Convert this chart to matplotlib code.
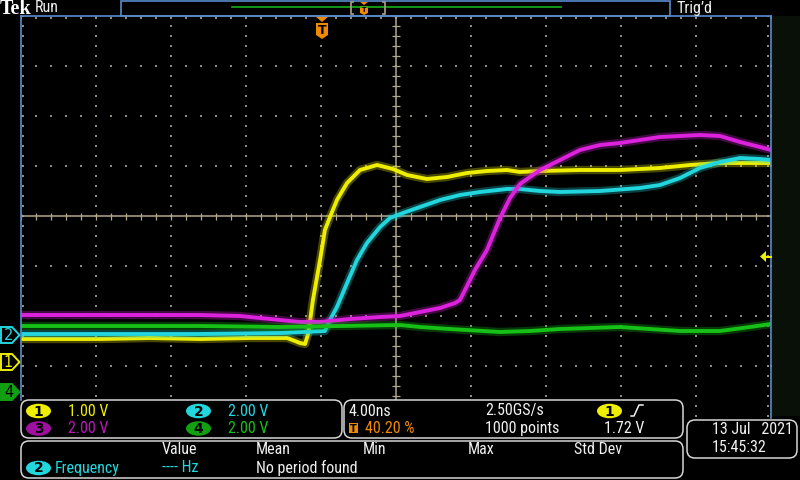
import matplotlib
matplotlib.use("Agg")
import matplotlib.pyplot as plt
from matplotlib import font_manager
from matplotlib.patches import FancyBboxPatch, Ellipse, Polygon, Rectangle
import numpy as np

# ---------------- data ----------------
time_per_div_ns = 4.0
volts_per_div = {1: 1.0, 2: 2.0, 3: 2.0, 4: 2.0}
position_div = {1: -2.92, 2: -2.40, 3: -2.40, 4: -3.52}

ch1_t = [0, 4.21, 6.88, 9.55, 12.21, 14.19, 14.61, 14.88, 15.15, 15.31, 15.41, 15.57, 15.95,
         16.21, 16.48, 16.85, 17.39, 18.08, 18.99, 19.84, 20.59, 21.65, 22.72, 23.79, 24.85,
         25.92, 26.61, 27.68, 29.81, 31.95, 34.08, 35.68, 37.28, 38.88, 40.0]
ch1_v = [0.46, 0.46, 0.48, 0.46, 0.48, 0.48, 0.42, 0.38, 0.36, 0.56, 0.80, 1.24, 2.04,
         2.64, 2.90, 3.24, 3.58, 3.84, 3.94, 3.86, 3.74, 3.66, 3.70, 3.78, 3.82,
         3.84, 3.80, 3.82, 3.84, 3.84, 3.88, 3.94, 3.98, 3.98, 3.98]

ch2_t = [0, 4.21, 9.55, 13.81, 16.21, 16.48, 16.85, 17.39, 17.92, 18.45, 19.15, 19.68, 20.37,
         21.28, 22.35, 23.41, 24.48, 25.92, 26.61, 27.68, 28.75, 30.88, 33.01, 34.08, 35.15,
         36.21, 37.28, 38.35, 39.41, 40.0]
ch2_v = [0.08, 0.08, 0.08, 0.12, 0.20, 0.64, 1.16, 2.12, 3.04, 3.72, 4.36, 4.72, 4.92,
         5.16, 5.44, 5.64, 5.76, 5.88, 5.88, 5.80, 5.76, 5.80, 5.92, 6.04, 6.32,
         6.72, 6.96, 7.12, 7.08, 7.04]

ch3_t = [0, 4.21, 9.55, 11.68, 13.28, 14.88, 15.95, 17.55, 19.15, 20.21, 21.28, 22.35, 23.15,
         23.41, 23.68, 24.21, 24.85, 25.55, 26.08, 26.61, 27.68, 28.75, 29.81, 30.88, 31.95,
         33.01, 34.08, 36.21, 37.28, 38.35, 39.41, 40.0]
ch3_v = [0.84, 0.84, 0.84, 0.80, 0.68, 0.56, 0.56, 0.68, 0.76, 0.80, 0.96, 1.12, 1.32,
         1.44, 1.84, 2.64, 3.44, 4.72, 5.52, 6.08, 6.64, 7.04, 7.44, 7.64, 7.72,
         7.84, 7.96, 8.04, 8.00, 7.76, 7.56, 7.44]

ch4_t = [0, 4.21, 9.55, 13.81, 20.21, 21.28, 22.88, 25.55, 27.15, 28.75, 31.95, 35.15, 37.28, 38.88, 40.0]
ch4_v = [2.64, 2.64, 2.64, 2.60, 2.68, 2.60, 2.52, 2.40, 2.44, 2.52, 2.60, 2.44, 2.44, 2.60, 2.72]

channel_scale_labels = {1: "1.00 V", 2: "2.00 V", 3: "2.00 V", 4: "2.00 V"}
horiz_labels = ["4.00ns", "40.20 %", "2.50GS/s", "1000 points", "1.72 V"]
meas_headers = ["Value", "Mean", "Min", "Max", "Std Dev"]
meas_row = ["Frequency", "---- Hz", "No period found"]
date_labels = ["13 Jul   2021", "15:45:32"]

# ---------------- style ----------------
YEL = '#eeee00'
CYA = '#22d6de'
MAG = '#dd22dd'
MAG_T = '#b818b8'
GRN = '#16c016'
GRN_F = '#12a012'
ORA = '#f08a00'
BLUE = '#5a8ccc'
GRID = '#8e8a7e'
CENT = '#b2a88c'
WHITE = '#f0f0f0'


def pick(fams):
    for f in fams:
        try:
            font_manager.findfont(f, fallback_to_default=False)
            return f
        except Exception:
            pass
    return None


NARROW = pick(['Liberation Sans Narrow', 'Roboto Condensed', 'Noto Sans Condensed',
               'Open Sans Condensed', 'DejaVu Sans Condensed'])
if NARROW is not None:
    FONT, FS = NARROW, 11.5
else:
    FONT, FS = 'Liberation Sans', 10.5
plt.rcParams['font.family'] = [FONT, 'DejaVu Sans']

fig = plt.figure(figsize=(8, 4.8), dpi=100, facecolor='black')

# ---------------- graticule axes ----------------
g = fig.add_axes([21 / 800, 64 / 480, 750 / 800, 400 / 480], zorder=1)
g.set_facecolor('black')
g.set_xlim(0, 40)
g.set_ylim(-4, 4)
for s in g.spines.values():
    s.set_visible(False)
g.set_xticks([])
g.set_yticks([])

xs = np.arange(0, 40.001, 0.8)
ys = np.arange(-4, 4.001, 0.2)
for yv in [-3, -2, -1, 1, 2, 3]:
    g.scatter(xs, np.full_like(xs, yv), s=1.0, marker='s', color=GRID, linewidths=0, zorder=1)
for xv in [4, 8, 12, 16, 24, 28, 32, 36]:
    g.scatter(np.full_like(ys, xv), ys, s=1.0, marker='s', color=GRID, linewidths=0, zorder=1)
# edge ticks
g.scatter(xs, np.full_like(xs, 3.96), s=1.0, marker='s', color=GRID, linewidths=0, zorder=1)
g.scatter(np.full_like(ys, 0.1), ys, s=1.0, marker='s', color=GRID, linewidths=0, zorder=1)
g.scatter(np.full_like(ys, 39.85), ys, s=1.0, marker='s', color=GRID, linewidths=0, zorder=1)
# centre lines with sub-division ticks
g.axhline(0, color=CENT, lw=1.1, zorder=1)
g.axvline(20, color=CENT, lw=1.1, zorder=1)
g.vlines(xs, -0.07, 0.07, color=CENT, lw=0.9, zorder=1)
g.hlines(ys, 20 - 0.19, 20 + 0.19, color=CENT, lw=0.9, zorder=1)

# traces
traces = [(1, ch1_t, ch1_v, YEL), (2, ch2_t, ch2_v, CYA), (3, ch3_t, ch3_v, MAG), (4, ch4_t, ch4_v, GRN)]
for ch, t, v, col in traces:
    d = np.asarray(v) / volts_per_div[ch] + position_div[ch]
    g.plot(t, d, color=col, lw=6.0, alpha=0.30, solid_capstyle='butt', zorder=2 + ch)
    g.plot(t, d, color=col, lw=2.8, solid_joinstyle='round', zorder=2 + ch)

# ---------------- UI overlay (pixel coordinates) ----------------
ui = fig.add_axes([0, 0, 1, 1], zorder=5)
ui.set_xlim(0, 800)
ui.set_ylim(480, 0)
ui.axis('off')

# right strip
ui.add_patch(Rectangle((772, 16), 28, 400, fc='#081008', ec='none'))
# borders
ui.plot([21, 771], [16, 16], color=BLUE, lw=1.2)
ui.plot([21, 21], [16, 400], color=BLUE, lw=1.2)
ui.plot([771, 771], [16, 418], color=BLUE, lw=1.2)

# top bar
ui.text(0, 9, "Tek", family='Liberation Serif', weight='bold', fontsize=14.5, color='white',
        va='center', ha='left')
ui.text(35, 8, "Run", fontsize=FS, color=WHITE, va='center', ha='left')
ui.add_patch(Rectangle((121, 0.8), 549, 15.2, fc='none', ec=BLUE, lw=1.2))
ui.plot([232, 561], [7, 7], color='#18b018', lw=1.2)
for bx, sgn in [(351, 1), (385, -1)]:
    ui.plot([bx + 2 * sgn, bx, bx, bx + 2 * sgn], [2, 2, 14, 14], color='#a09880', lw=1.3)
ui.add_patch(Polygon([(360, 2), (368, 2), (364, 5)], closed=True, fc=ORA, ec='none'))
ui.add_patch(Polygon([(360, 6), (368, 6), (368, 13), (364, 15), (360, 13)], closed=True, fc=ORA, ec='none'))
ui.text(364, 10, "T", fontsize=6, weight='bold', color='black', ha='center', va='center')
ui.text(676, 8, "Trig\u2019d", fontsize=FS, color=WHITE, va='center', ha='left')

# trigger position marker
ui.add_patch(Polygon([(315.5, 16.5), (328.5, 16.5), (322, 22)], closed=True, fc=ORA, ec='none'))
ui.add_patch(Polygon([(316, 23), (328, 23), (328, 35), (322, 39), (316, 35)], closed=True, fc=ORA, ec='none'))
ui.text(322, 30.5, "T", fontsize=9, weight='bold', color='black', ha='center', va='center', family='DejaVu Sans')

# trigger level arrow (right)
ui.add_patch(Polygon([(760, 256.5), (766, 251), (766, 262)], closed=True, fc=YEL, ec='none'))
ui.plot([765, 771], [256.5, 256.5], color=YEL, lw=1.5)

# left channel markers
def marker(y, col, txt, filled):
    pts = [(1, y - 8), (12, y - 8), (19.5, y), (12, y + 8), (1, y + 8)]
    ui.add_patch(Polygon(pts, closed=True, fc=col if filled else 'black', ec=col, lw=1.4))
    ui.text(8.5, y + 0.5, txt, fontsize=10.5, color='black' if filled else col,
            ha='center', va='center', family='DejaVu Sans')

marker(335, CYA, "2", False)
marker(362, YEL, "1", False)
marker(392, GRN_F, "4", True)

# panels
def panel(x0, y0, x1, y1):
    ui.add_patch(FancyBboxPatch((x0, y0), x1 - x0, y1 - y0,
                                boxstyle='round,pad=0,rounding_size=8',
                                fc='black', ec='#d6d6d6', lw=1.1))

panel(21, 400, 342, 438)
panel(344, 400, 683, 438)
panel(21, 441, 683, 478)
panel(687, 420, 797, 458)

def pill(cx, cy, col, txt):
    ui.add_patch(Ellipse((cx, cy), 25, 14.5, fc=col, ec='none'))
    ui.text(cx, cy + 0.5, txt, fontsize=10, weight='bold', color='black', ha='center', va='center',
            family='DejaVu Sans')

pill(38.5, 411, YEL, "1")
pill(198.5, 411, CYA, "2")
pill(38.5, 428.5, '#a010a0', "3")
pill(198.5, 428.5, GRN_F, "4")
ui.text(68, 411, channel_scale_labels[1], fontsize=FS, color=YEL, va='center')
ui.text(228, 411, channel_scale_labels[2], fontsize=FS, color=CYA, va='center')
ui.text(68, 428.5, channel_scale_labels[3], fontsize=FS, color=MAG_T, va='center')
ui.text(228, 428.5, channel_scale_labels[4], fontsize=FS, color=GRN, va='center')

# horizontal panel
ui.text(349, 411, horiz_labels[0], fontsize=FS, color=WHITE, va='center')
ui.add_patch(Rectangle((349, 423), 9, 10, fc=ORA, ec='none'))
ui.text(353.5, 428.5, "T", fontsize=7, weight='bold', color='black', ha='center', va='center', family='DejaVu Sans')
ui.text(365, 428.5, horiz_labels[1], fontsize=FS, color=ORA, va='center')
ui.text(485, 411, horiz_labels[2], fontsize=FS, color=WHITE, va='center')
ui.text(485, 428.5, horiz_labels[3], fontsize=FS, color=WHITE, va='center')
pill(609.5, 411, YEL, "1")
ui.plot([631, 634, 639, 643], [416, 416, 405, 405], color=WHITE, lw=1.1)
ui.text(604, 428.5, horiz_labels[4], fontsize=FS, color=WHITE, va='center')

# measurement panel
for x, txt in zip([162, 256, 363, 468, 574], meas_headers):
    ui.text(x, 450, txt, fontsize=FS, color=WHITE, va='center')
pill(38.5, 468, CYA, "2")
ui.text(55, 468, meas_row[0], fontsize=FS, color=CYA, va='center')
ui.text(162, 468, meas_row[1], fontsize=FS, color=CYA, va='center')
ui.text(256, 468, meas_row[2], fontsize=FS, color=WHITE, va='center')

# date panel
ui.text(712, 430, date_labels[0], fontsize=FS, color=WHITE, va='center')
ui.text(712, 448, date_labels[1], fontsize=FS, color=WHITE, va='center')

fig.savefig('out.png', dpi=100, facecolor='black')
